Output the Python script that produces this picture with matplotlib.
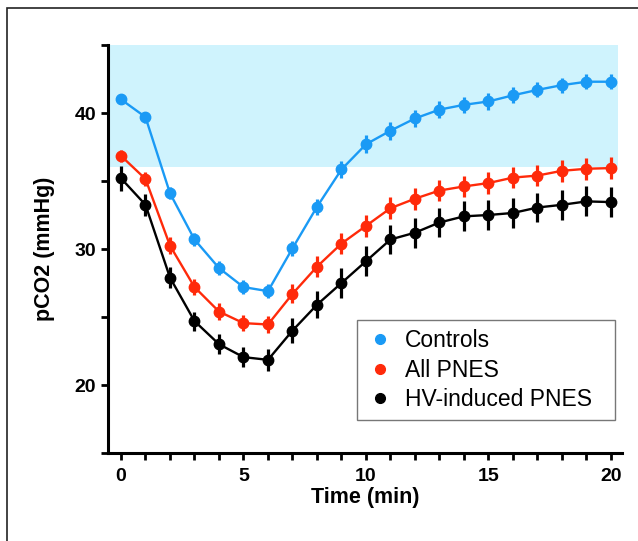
import matplotlib as mpl
import matplotlib.pyplot as plt
import numpy as np

mpl.use("agg")
plt.rcParams["font.family"] = ["Liberation Sans", "DejaVu Sans"]

time_min = np.arange(0, 21)

# mean pCO2 (mmHg)
controls = [41.0, 39.7, 34.1, 30.7, 28.6, 27.2, 26.9, 30.05, 33.1, 35.85, 37.7,
            38.7, 39.6, 40.25, 40.6, 40.85, 41.3, 41.7, 42.05, 42.3, 42.3]
all_pnes = [36.85, 35.15, 30.25, 27.2, 25.4, 24.55, 24.45, 26.7, 28.7, 30.4, 31.7,
            33.0, 33.7, 34.3, 34.6, 34.85, 35.25, 35.4, 35.75, 35.9, 35.95]
hv_pnes = [35.2, 33.25, 27.9, 24.7, 23.0, 22.05, 21.85, 24.0, 25.9, 27.5, 29.1,
           30.7, 31.2, 31.95, 32.4, 32.5, 32.65, 33.05, 33.25, 33.5, 33.45]

# error bars (SEM), rough reading
controls_err = [0.35, 0.4, 0.45, 0.5, 0.5, 0.5, 0.5, 0.55, 0.6, 0.65, 0.65,
                0.65, 0.6, 0.6, 0.6, 0.6, 0.6, 0.55, 0.55, 0.55, 0.55]
all_pnes_err = [0.45, 0.5, 0.6, 0.6, 0.6, 0.6, 0.65, 0.7, 0.75, 0.8, 0.8,
                0.8, 0.8, 0.8, 0.8, 0.8, 0.8, 0.8, 0.8, 0.8, 0.8]
hv_pnes_err = [0.9, 0.8, 0.8, 0.7, 0.75, 0.75, 0.8, 0.9, 1.0, 1.1, 1.1,
               1.1, 1.1, 1.1, 1.1, 1.1, 1.1, 1.1, 1.1, 1.1, 1.1]

normal_range = (36, 45)

series = [
    ("Controls", controls, controls_err, "#1a9af5"),
    ("All PNES", all_pnes, all_pnes_err, "#ff2a0a"),
    ("HV-induced PNES", hv_pnes, hv_pnes_err, "black"),
]

fig = plt.figure(figsize=(6.38, 5.41), dpi=100)
# thin frame around the panel, like the source image
fig.add_artist(plt.Rectangle((7 / 638, -0.1), 1.2, 1 - 8 / 541 + 0.1,
                             transform=fig.transFigure, fill=False,
                             lw=1.2, ec="#222222"))
ax = fig.add_axes([108 / 638, 1 - 453 / 541, 514 / 638, 408 / 541])

xmin, xmax = -0.53, 20.45
ax.fill_between([xmin, 20.3], normal_range[0], normal_range[1],
                color="#cff3fd", lw=0, zorder=0)

for name, y, err, col in series:
    ax.errorbar(time_min, y, yerr=err, color=col, lw=1.7, elinewidth=2.3,
                marker="o", ms=7.5, capsize=0, zorder=3)
    ax.plot([], [], "o", color=col, ms=7, label=name)

ax.set_xlim(xmin, xmax)
ax.set_ylim(15, 45)
ax.set_xticks(np.arange(0, 21, 5))
ax.set_xticks(np.arange(0, 21, 1), minor=True)
ax.set_yticks([20, 30, 40])
ax.set_yticks([15, 25, 35, 45], minor=True)
ax.tick_params(which="both", direction="out", width=2, length=5, labelsize=14)
ax.tick_params(axis="x", pad=6)
for lab in ax.get_xticklabels() + ax.get_yticklabels():
    lab.set_fontweight("bold")

for s in ["top", "right"]:
    ax.spines[s].set_visible(False)
for s in ["left", "bottom"]:
    ax.spines[s].set_linewidth(2.2)

ax.set_xlabel("Time (min)", fontsize=15.5, fontweight="bold", labelpad=1)
ax.set_ylabel("pCO2 (mmHg)", fontsize=15.5, fontweight="bold", labelpad=14)

leg = ax.legend(loc="lower left", bbox_to_anchor=(0.484, 0.081, 0.502, 0.245),
                mode="expand", fontsize=16.5, frameon=True, fancybox=False,
                borderpad=0.4, labelspacing=0.27, handletextpad=0.5,
                handlelength=1.2, borderaxespad=0)
leg.get_frame().set_edgecolor("#555555")
leg.get_frame().set_linewidth(1.0)

fig.savefig("out.png", dpi=100)
